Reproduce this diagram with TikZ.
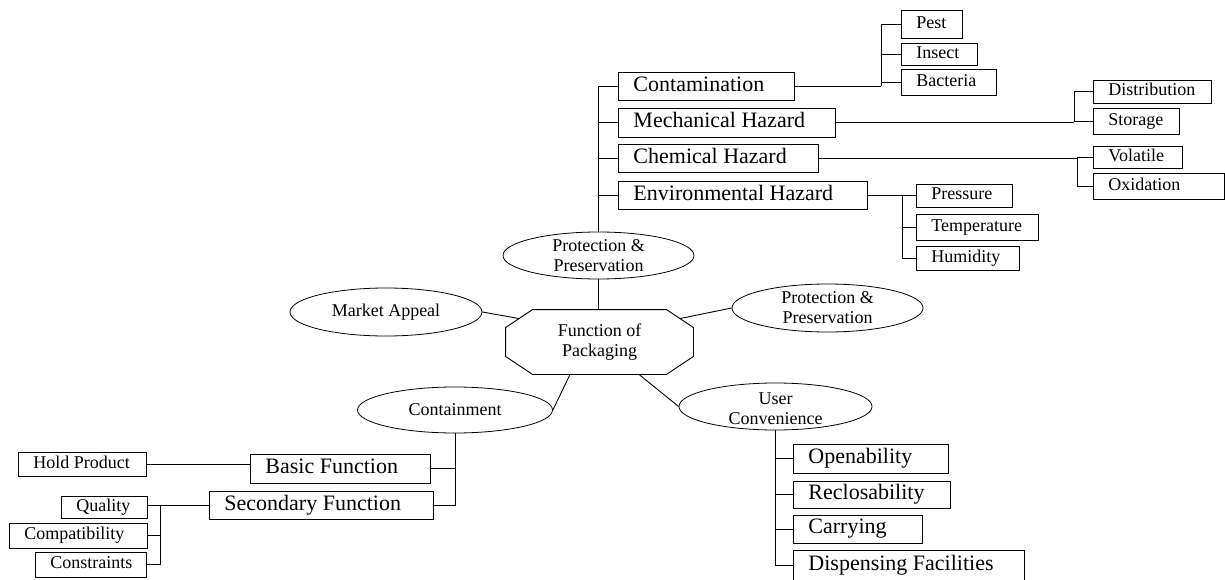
\documentclass[tikz,border=0pt]{standalone}
\usepackage{fontspec}
\setmainfont{Liberation Serif}
\usetikzlibrary{shapes.geometric,calc}
% #1 style, #2 name, #3 left, #4 top, #5 right, #6 bottom, #7 text
\newcommand\boxnode[7]{\node[#1,anchor=west,minimum width={#5-#3},minimum height={#6-#4}] (#2) at (#3,{(#4+#6)/2}) {\makebox[\dimexpr #5pt-#3pt-30pt\relax][l]{\rule[-0.2em]{0pt}{0.862em}#7}};}
\begin{document}
\begin{tikzpicture}[x=1pt,y=-1pt,line width=0.9pt,
  bigbox/.style={draw,inner xsep=15pt,inner ysep=0pt,font=\fontsize{22}{24}\selectfont},
  smallbox/.style={draw,inner xsep=15pt,inner ysep=0pt,font=\fontsize{18}{20}\selectfont},
  oval/.style={draw,ellipse,inner sep=0pt,line width=0.8pt},
  ovaltext/.style={font=\fontsize{18}{20}\selectfont,align=center,inner sep=0pt},
  link/.style={line width=0.9pt}]
\fill[white] (0,0) rectangle (1225,580);
\useasboundingbox (0,0) rectangle (1225,580);

% ---------- centre ----------
\node[ovaltext,minimum width=187,minimum height=64] (fn) at (599.5,342) {Function of\\Packaging};
\draw ([xshift=27pt]fn.north west) -- ([xshift=-27pt]fn.north east) -- ([yshift=-18pt]fn.north east)
  -- ([yshift=18pt]fn.south east) -- ([xshift=-27pt]fn.south east) -- ([xshift=27pt]fn.south west)
  -- ([yshift=18pt]fn.south west) -- ([yshift=-18pt]fn.north west) -- cycle;
\coordinate (fnNW) at ($(fn.north west)+(13.5,9)$);
\coordinate (fnNE) at ($(fn.north east)+(-13.5,9)$);
\coordinate (fnSW) at ($(fn.south)+(-29.5,0)$);
\coordinate (fnSE) at ($(fn.south)+(39.5,0)$);

\node[oval,minimum width=191,minimum height=47] (pp1) at (598.5,255.5) {};
\node[ovaltext] (pp1t) at (pp1) {Protection \&\\Preservation};
\node[oval,minimum width=192,minimum height=48] (mkt) at (386,312) {};
\node[ovaltext] (mktt) at (mkt) {Market Appeal};
\node[oval,minimum width=191,minimum height=48] (pp2) at (827.5,308) {};
\node[ovaltext] (pp2t) at (pp2) {Protection \&\\Preservation};
\node[oval,minimum width=195,minimum height=46] (contel) at (455,410) {};
\node[ovaltext] (contelt) at (contel) {Containment};
\node[oval,minimum width=193,minimum height=47] (user) at (775.5,406.5) {};
\node[ovaltext] (usert) at ([yshift=-2pt]user.center) {User\\Convenience};

\draw[link] (pp1.south) -- (pp1.south |- fn.north);
\draw[link] (mkt.east) -- (fnNW);
\draw[link] (pp2.west) -- (fnNE);
\draw[link] (fnSW) -- (contel.east);
\draw[link] (fnSE) -- (user.west);

% ---------- protection branch ----------
\boxnode{bigbox}{cont}{618}{72}{794}{100}{Contamination}
\boxnode{bigbox}{mech}{618}{108}{835}{137}{Mechanical Hazard}
\boxnode{bigbox}{chem}{618}{144}{818}{172}{Chemical Hazard}
\boxnode{bigbox}{env}{618}{181}{867}{209}{Environmental Hazard}
\foreach \b in {cont,mech,chem,env} \draw[link] (pp1.north) |- (\b.west);

\boxnode{smallbox}{pest}{901}{10}{962}{38}{Pest}
\boxnode{smallbox}{insect}{901}{43}{977}{65}{Insect}
\boxnode{smallbox}{bact}{901}{69}{996}{95}{Bacteria}
\coordinate (cj) at (881,86);
\draw[link] (cont.east) -- (cj);
\foreach \b in {pest,insect,bact} \draw[link] (cj) |- (\b.west);

\boxnode{smallbox}{distr}{1093}{80}{1211}{103}{Distribution}
\boxnode{smallbox}{stor}{1093}{108}{1179}{134}{Storage}
\coordinate (mj) at (1074,122.5);
\draw[link] (mech.east) -- (mj);
\foreach \b in {distr,stor} \draw[link] (mj) |- (\b.west);

\boxnode{smallbox}{vol}{1093}{146}{1182}{168}{Volatile}
\boxnode{smallbox}{oxid}{1093}{173}{1224}{199}{Oxidation}
\coordinate (chj) at (1077,158);
\draw[link] (chem.east) -- (chj);
\foreach \b in {vol,oxid} \draw[link] (chj) |- (\b.west);

\boxnode{smallbox}{press}{916}{184}{1012}{207}{Pressure}
\boxnode{smallbox}{temp}{916}{214}{1038}{240}{Temperature}
\boxnode{smallbox}{humid}{916}{246}{1019}{270}{Humidity}
\coordinate (ej) at (902,195);
\draw[link] (env.east) -- (ej);
\foreach \b in {press,temp,humid} \draw[link] (ej) |- (\b.west);

% ---------- containment branch ----------
\boxnode{bigbox}{basic}{250}{454}{430}{483}{Basic Function}
\boxnode{bigbox}{second}{209}{491}{433}{519}{Secondary Function}
\draw[link] (contel.south) |- (basic.east);
\draw[link] (contel.south) |- (second.east);

\boxnode{smallbox}{hold}{18}{452}{146}{476}{Hold Product}
\draw[link] (hold.east) -- (hold.east -| basic.west);

\boxnode{smallbox}{qual}{61}{496}{147}{518}{Quality}
\boxnode{smallbox}{compat}{9}{523}{147}{548}{Compatibility}
\boxnode{smallbox}{constr}{35}{552}{146}{577}{Constraints}
\coordinate (sj) at (160,505);
\draw[link] (second.west) -- (second.west -| qual.east);
\draw[link] (sj) |- (compat.east);
\draw[link] (sj) |- (constr.east);

% ---------- user convenience branch ----------
\boxnode{bigbox}{open}{793}{444}{948}{473}{Openability}
\boxnode{bigbox}{reclos}{793}{481}{950}{508}{Reclosability}
\boxnode{bigbox}{carry}{793}{515}{922}{543}{Carrying}
\boxnode{bigbox}{disp}{793}{550}{1024}{580}{Dispensing Facilities}
\foreach \b in {open,reclos,carry,disp} \draw[link] (user.south) |- (\b.west);
\end{tikzpicture}
\end{document}
